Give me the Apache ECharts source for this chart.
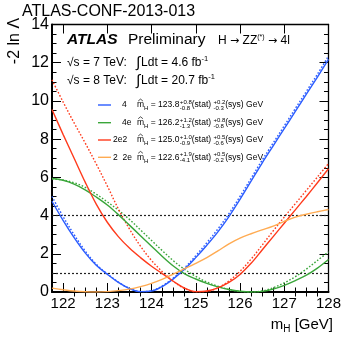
<!DOCTYPE html>
<html><head><meta charset="utf-8">
<script src="https://cdn.jsdelivr.net/npm/echarts@6/dist/echarts.min.js"></script>
<style>html,body{margin:0;padding:0;background:#fff}#c{width:344px;height:338px}</style>
</head><body><div id="c"></div>
<script>
// ---- data ----
const mass = [121.75,122,122.25,122.5,122.75,123,123.25,123.5,123.75,124,124.25,124.5,124.75,125,125.25,125.5,125.75,126,126.25,126.5,126.75,127,127.25,127.5,127.75,128];
const fourMu      = [4.75,3.75,2.85,2.05,1.4,0.93,0.5,0.18,0.02,0.05,0.3,0.7,1.2,1.8,2.45,3.15,3.95,4.85,5.8,6.75,7.65,8.55,9.45,10.35,11.25,12.17];
const fourMuStat  = [5.0,3.95,3.0,2.15,1.45,0.95,0.52,0.19,0.02,0.06,0.33,0.75,1.27,1.9,2.58,3.3,4.1,5.0,5.95,6.9,7.8,8.7,9.6,10.5,11.4,12.35];
const fourE       = [5.94,5.85,5.65,5.35,4.97,4.55,4.05,3.5,2.95,2.4,1.85,1.35,0.95,0.68,0.45,0.27,0.13,0.04,0.0,0.03,0.15,0.35,0.6,0.88,1.25,1.7];
const fourEStat   = [5.92,5.86,5.72,5.48,5.12,4.72,4.28,3.8,3.25,2.7,2.15,1.62,1.18,0.82,0.52,0.3,0.13,0.03,0.0,0.05,0.22,0.48,0.8,1.2,1.65,2.1];
const twoE2Mu     = [9.55,8.25,7.0,5.75,4.6,3.65,2.9,2.3,1.8,1.35,0.95,0.55,0.2,0.02,0.05,0.22,0.5,0.92,1.5,2.2,2.9,3.6,4.3,5.0,5.72,6.45];
const twoE2MuStat = [11.1,9.95,8.85,7.8,6.7,5.55,4.35,3.3,2.4,1.65,1.05,0.55,0.18,0.01,0.03,0.22,0.58,1.08,1.72,2.45,3.2,3.92,4.62,5.32,6.02,6.72];
const twoMu2E     = [0.2,0.12,0.05,0.01,0.0,0.02,0.07,0.15,0.28,0.45,0.67,0.95,1.22,1.5,1.8,2.15,2.52,2.82,3.05,3.25,3.45,3.7,3.92,4.07,4.2,4.32];
const thresholds = [4, 1];
const xMajorTicks = [122,123,124,125,126,127,128];
const xMinorTicks = [122.25,122.5,122.75,123.25,123.5,123.75,124.25,124.5,124.75,125.25,125.5,125.75,126.25,126.5,126.75,127.25,127.5,127.75];
const legendNames = ['4', '4e', '2e2', '2  2e'];
const legendFits = [
  {m:'123.8', s:['+0.8','-0.8'], y:['+0.2','-0.3']},
  {m:'126.2', s:['+1.2','-1.3'], y:['+0.8','-0.8']},
  {m:'125.0', s:['+1.0','-0.9'], y:['+0.5','-0.6']},
  {m:'122.6', s:['+1.9','-4.1'], y:['+0.5','-0.2']}
];
const colors = ['#2b5cff', '#3aa63a', '#ff3a1c', '#ffab52'];

// ---- helpers ----
const F = "'Liberation Sans', Arial, Helvetica, sans-serif";
const FA = "'DejaVu Sans', sans-serif";
const ctx = document.createElement('canvas').getContext('2d');
function tw(t, size, weight, fam){ ctx.font = (weight||'normal') + ' ' + size + 'px ' + (fam||F); return ctx.measureText(t).width; }
function txt(t, x, yBase, size, opt){
  opt = opt || {};
  return {type:'text', silent:true, z:100, x: x, y: yBase - 0.36*size,
    style:{text:t, fill:'#000', fontSize:size, fontFamily:opt.fam||F, fontWeight:opt.weight||'normal', fontStyle:opt.style||'normal',
      align:'left', textAlign:'left', verticalAlign:'middle', textVerticalAlign:'middle'}};
}
function pts(vals){ return mass.map((m,i)=>[m, vals[i]]); }

const graphics = [];
graphics.push(txt('ATLAS-CONF-2013-013', 22, 17, 16));
graphics.push(txt('ATLAS', 67, 45, 15.5, {weight:'bold', style:'italic'}));
graphics.push(txt('Preliminary', 128, 45, 15.5));
(function(){
  let x = 218; const b = 45;
  const parts = [['H ', 12, F, 0], ['\u2192', 11, FA, 0], [' ZZ', 12, F, 0], ['(*)', 7, F, -5], [' ', 12, F, 0], ['\u2192', 11, FA, 0], [' 4l', 12, F, 0]];
  parts.forEach(p => { graphics.push(txt(p[0], x, b + p[3], p[1], {fam:p[2]})); x += tw(p[0], p[1], 'normal', p[2]); });
})();
[['\u221As = 7 TeV:', '4.6', 66.7], ['\u221As = 8 TeV:', '20.7', 85]].forEach(r => {
  graphics.push(txt(r[0], 67, r[2], 12));
  let x = 136;
  graphics.push(txt('\u222B', x, r[2]+1.5, 15)); x += tw('\u222B', 15) + 1;
  const s = 'Ldt = ' + r[1] + ' fb';
  graphics.push(txt(s, x, r[2], 12)); x += tw(s, 12);
  graphics.push(txt('-1', x, r[2]-5, 7.5));
});
const rowY = [105, 122.7, 140, 157.3];
const FS = 8.5, SS = 6;
legendNames.forEach((n, i) => {
  const y = rowY[i];
  graphics.push({type:'line', silent:true, z:100, shape:{x1:98, y1:y, x2:111, y2:y}, style:{stroke:colors[i], lineWidth:1.4}});
  const b = y + 3;
  graphics.push(txt(n, (i < 2) ? 122 : 113, b, FS));
  let x = 137;
  const f = legendFits[i];
  graphics.push(txt('m', x, b, FS));
  const mw = tw('m', FS);
  graphics.push({type:'polyline', silent:true, z:100, shape:{points:[[x+1.2, b-7],[x+mw/2, b-8.9],[x+mw-1.2, b-7]]}, style:{stroke:'#000', lineWidth:0.7, fill:null}});
  x += mw;
  graphics.push(txt('H', x, b+2.8, SS)); x += tw('H', SS);
  const eq = ' = ' + f.m;
  graphics.push(txt(eq, x, b, FS)); x += tw(eq, FS) + 0.5;
  graphics.push(txt(f.s[0], x, b-3.6, SS)); graphics.push(txt(f.s[1], x, b+2.6, SS));
  x += Math.max(tw(f.s[0],SS), tw(f.s[1],SS));
  graphics.push(txt('(stat) ', x, b, FS)); x += tw('(stat) ', FS);
  graphics.push(txt(f.y[0], x, b-3.6, SS)); graphics.push(txt(f.y[1], x, b+2.6, SS));
  x += Math.max(tw(f.y[0],SS), tw(f.y[1],SS));
  graphics.push(txt('(sys) GeV', x, b, FS));
});
(function(){
  const b = 330, s = 15;
  const w = tw('m', s) + tw('H', 10) + tw(' [GeV]', s);
  let x = 333 - w;
  graphics.push(txt('m', x, b, s)); x += tw('m', s);
  graphics.push(txt('H', x, b+3, 10)); x += tw('H', 10);
  graphics.push(txt(' [GeV]', x, b, s));
})();
graphics.push({type:'text', silent:true, z:100, x:15, y:41, rotation:Math.PI/2,
  style:{text:'-2 ln \u039B', fill:'#000', fontSize:16, fontFamily:F, align:'center', textAlign:'center', verticalAlign:'middle', textVerticalAlign:'middle'}});

const solid = (name, vals, c) => ({name, type:'line', data:pts(vals), smooth:0.35, showSymbol:false, symbol:'none',
  lineStyle:{color:c, width:1.4}, itemStyle:{color:c}, z:5, silent:true});
const dotted = (name, vals, c) => ({name, type:'line', data:pts(vals), smooth:0.35, showSymbol:false, symbol:'none',
  lineStyle:{color:c, width:1.4, type:[1.6,1.8]}, itemStyle:{color:c}, z:4, silent:true});

const axisBase = {min:121.75, max:128, type:'value', splitLine:{show:false}};
const option = {
  animation:false, backgroundColor:'#fff',
  grid:{left:52, right:12.3, top:24.5, bottom:46, containLabel:false},
  xAxis:[
    Object.assign({}, axisBase, {position:'bottom',
      axisLine:{show:true, onZero:false, lineStyle:{color:'#000', width:2}},
      axisTick:{show:true, inside:true, length:9, customValues:xMajorTicks, lineStyle:{color:'#000', width:1}},
      axisLabel:{show:true, customValues:xMajorTicks, color:'#000', fontSize:15, fontFamily:F, margin:4}}),
    Object.assign({}, axisBase, {position:'bottom', axisLine:{show:false}, axisLabel:{show:false},
      axisTick:{show:true, inside:true, length:4.5, customValues:xMinorTicks, lineStyle:{color:'#000', width:1}}}),
    Object.assign({}, axisBase, {position:'top',
      axisLine:{show:true, onZero:false, lineStyle:{color:'#000', width:1.3}}, axisLabel:{show:false},
      axisTick:{show:true, inside:true, length:9, customValues:xMajorTicks, lineStyle:{color:'#000', width:1}}}),
    Object.assign({}, axisBase, {position:'top', axisLine:{show:false}, axisLabel:{show:false},
      axisTick:{show:true, inside:true, length:4.5, customValues:xMinorTicks, lineStyle:{color:'#000', width:1}}})
  ],
  yAxis:[
    {type:'value', min:0, max:14, interval:2, position:'left', splitLine:{show:false},
      axisLine:{show:true, onZero:false, lineStyle:{color:'#000', width:2}},
      axisTick:{show:true, inside:true, length:9, lineStyle:{color:'#000', width:1}},
      minorTick:{show:true, splitNumber:4, length:4.5, lineStyle:{color:'#000', width:1}},
      axisLabel:{color:'#000', fontSize:16, fontFamily:F, margin:3}},
    {type:'value', min:0, max:14, interval:2, position:'right', splitLine:{show:false},
      axisLine:{show:true, onZero:false, lineStyle:{color:'#000', width:1.3}},
      axisTick:{show:true, inside:true, length:9, lineStyle:{color:'#000', width:1}},
      minorTick:{show:true, splitNumber:4, length:4.5, lineStyle:{color:'#000', width:1}},
      axisLabel:{show:false}}
  ],
  series:[
    dotted('4 stat', fourMuStat, colors[0]),
    dotted('4e stat', fourEStat, colors[1]),
    dotted('2e2 stat', twoE2MuStat, colors[2]),
    solid('4', fourMu, colors[0]),
    solid('4e', fourE, colors[1]),
    solid('2e2', twoE2Mu, colors[2]),
    Object.assign(solid('2  2e', twoMu2E, colors[3]), {
      markLine:{silent:true, symbol:['none','none'], label:{show:false}, animation:false,
        lineStyle:{color:'#222', width:1.2, type:[2,2]},
        data: thresholds.map(v => ({yAxis:v}))}})
  ],
  graphic: graphics
};
const chart = echarts.init(document.getElementById('c'), null, {renderer:'canvas'});
chart.setOption(option);
</script>
</body></html>
